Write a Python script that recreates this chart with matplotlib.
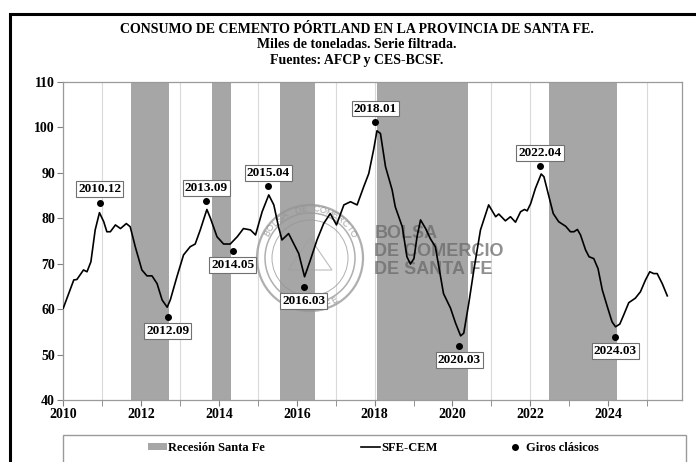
import numpy as np
import matplotlib
matplotlib.use("Agg")
import matplotlib.pyplot as plt
from matplotlib.patches import Rectangle, Patch, Circle
from matplotlib.lines import Line2D

# Serie filtrada SFE-CEM (miles de toneladas)
t = [2010.00, 2010.27, 2010.35, 2010.52, 2010.61, 2010.71, 2010.82, 2010.93, 2011.04, 2011.12,
     2011.21, 2011.34, 2011.47, 2011.62, 2011.72, 2011.85, 2012.02, 2012.15, 2012.28, 2012.41,
     2012.54, 2012.67, 2012.75, 2012.92, 2013.09, 2013.26, 2013.39, 2013.52, 2013.69, 2013.78,
     2013.95, 2014.12, 2014.29, 2014.47, 2014.63, 2014.81, 2014.94, 2015.11, 2015.28, 2015.41,
     2015.53, 2015.62, 2015.79, 2015.92, 2016.05, 2016.20, 2016.35, 2016.52, 2016.69, 2016.86,
     2017.02, 2017.21, 2017.38, 2017.55, 2017.72, 2017.85, 2017.98, 2018.06, 2018.15, 2018.28,
     2018.45, 2018.53, 2018.71, 2018.83, 2018.92, 2019.01, 2019.09, 2019.18, 2019.31, 2019.43,
     2019.56, 2019.65, 2019.77, 2019.95, 2020.08, 2020.21, 2020.29, 2020.42, 2020.55, 2020.72,
     2020.93, 2021.11, 2021.19, 2021.36, 2021.49, 2021.62, 2021.75, 2021.85, 2021.92, 2022.01,
     2022.13, 2022.28, 2022.35, 2022.48, 2022.59, 2022.73, 2022.91, 2023.03, 2023.12, 2023.21,
     2023.29, 2023.42, 2023.51, 2023.63, 2023.74, 2023.85, 2023.98, 2024.10, 2024.19, 2024.30,
     2024.40, 2024.53, 2024.70, 2024.83, 2024.96, 2025.07, 2025.17, 2025.26, 2025.39, 2025.52]
sfe_cem = [60.2, 66.4, 66.5, 68.6, 68.2, 70.4, 77.4, 81.2, 79.2, 77.0,
           77.0, 78.5, 77.7, 78.8, 78.1, 73.7, 68.6, 67.3, 67.3, 65.6,
           62.0, 60.4, 62.0, 67.1, 71.9, 73.7, 74.3, 77.4, 81.9, 80.0,
           75.9, 74.3, 74.3, 75.9, 77.7, 77.4, 76.3, 81.4, 85.1, 82.9,
           78.1, 75.2, 76.6, 74.4, 72.2, 67.1, 70.8, 75.2, 78.8, 81.0,
           78.5, 82.9, 83.6, 82.9, 86.9, 89.8, 95.3, 99.2, 98.6, 91.3,
           86.2, 82.5, 78.1, 71.5, 69.9, 71.1, 75.9, 79.6, 77.7, 75.5,
           73.7, 69.3, 63.4, 60.2, 56.9, 54.1, 54.7, 61.3, 68.6, 77.4,
           82.9, 80.3, 80.9, 79.4, 80.3, 79.1, 81.4, 81.9, 81.6, 83.2,
           86.5, 89.7, 89.1, 84.7, 81.0, 79.2, 78.2, 77.0, 77.0, 77.5,
           76.3, 73.0, 71.5, 71.1, 68.9, 64.2, 60.5, 57.2, 56.1, 56.7,
           58.7, 61.4, 62.4, 63.8, 66.4, 68.2, 67.8, 67.8, 65.6, 62.9]

# Recesiones Santa Fe (inicio, fin)
rec_start = [2011.75, 2013.82, 2015.58, 2018.06, 2022.49]
rec_end = [2012.72, 2014.32, 2016.48, 2020.39, 2024.23]

# Giros clasicos
turn_labels = ["2010.12", "2012.09", "2013.09", "2014.05", "2015.04",
               "2016.03", "2018.01", "2020.03", "2022.04", "2024.03"]
turn_x = [2010.94, 2012.68, 2013.68, 2014.35, 2015.27, 2016.18, 2018.02, 2020.17, 2022.25, 2024.18]
turn_y = [83.4, 58.3, 83.7, 72.7, 87.0, 64.9, 101.2, 51.9, 91.5, 53.9]
turn_peak = [True, False, True, False, True, False, True, False, True, False]

legend_names = ["Recesión Santa Fe", "SFE-CEM", "Giros clásicos"]

serif = "Liberation Serif"
plt.rcParams["font.family"] = serif

fig = plt.figure(figsize=(6.96, 4.62), dpi=100)
ax = fig.add_axes([0.0909, 0.1342, 0.980 - 0.0909, 0.8232 - 0.1342])

# bandas de recesion
for a, b in zip(rec_start, rec_end):
    ax.axvspan(a, b, color="#a6a6a6", lw=0, zorder=1)

# marca de agua
ax.text(3.745, 4.62 - 2.25, "BOLSA\nDE COMERCIO\nDE SANTA FE", transform=fig.dpi_scale_trans,
        fontsize=13, fontweight="bold", family="Liberation Sans", color="#6a6a6a", alpha=0.75,
        ha="left", va="top", linespacing=1.08, zorder=2)
cx, cy = 3.10, 4.62 - 2.58
for r, lw in [(0.53, 1.6), (0.45, 1.1), (0.38, 0.7)]:
    ax.add_patch(Circle((cx, cy), r, transform=fig.dpi_scale_trans, fill=False,
                        ec="#959595", lw=lw, alpha=0.75, zorder=2, clip_on=False))
seal_top = "BOLSA DE COMERCIO"
angs = np.linspace(150, 30, len(seal_top))
for ch, a in zip(seal_top, angs):
    ax.text(cx + 0.49 * np.cos(np.radians(a)), cy + 0.49 * np.sin(np.radians(a)), ch,
            transform=fig.dpi_scale_trans, rotation=a - 90, ha="center", va="center",
            fontsize=6.5, family="Liberation Sans", color="#959595", alpha=0.85, zorder=2)
seal_bot = "SANTA FE"
angs = np.linspace(240, 300, len(seal_bot))
for ch, a in zip(seal_bot, angs):
    ax.text(cx + 0.49 * np.cos(np.radians(a)), cy + 0.49 * np.sin(np.radians(a)), ch,
            transform=fig.dpi_scale_trans, rotation=a + 90, ha="center", va="center",
            fontsize=6.5, family="Liberation Sans", color="#959595", alpha=0.85, zorder=2)
ax.add_patch(plt.Polygon([[cx - 0.22, cy - 0.12], [cx + 0.22, cy - 0.12], [cx, cy + 0.2]],
                         transform=fig.dpi_scale_trans, fill=False, ec="#a0a0a0", lw=0.8,
                         alpha=0.7, zorder=2))

ax.plot(t, sfe_cem, color="black", lw=1.2, zorder=4)
ax.plot(turn_x, turn_y, "o", color="black", ms=4, zorder=5)

for lab, x, y, pk in zip(turn_labels, turn_x, turn_y, turn_peak):
    ax.annotate(lab, (x, y), xytext=(0, 9.5 if pk else -10), textcoords="offset points",
                ha="center", va="center", fontsize=9.5, fontweight="bold", zorder=6,
                bbox=dict(boxstyle="square,pad=0.15", fc="white", ec="#707070", lw=0.8))

ax.set_xlim(2010, 2025.9)
ax.set_ylim(40, 110)
ax.set_xticks(range(2010, 2025, 2))
ax.set_xticks(range(2011, 2026, 2), minor=True)
ax.set_yticks(range(40, 111, 10))
ax.tick_params(axis="both", which="both", direction="out", color="#808080", length=4,
               labelsize=10, pad=2)
for lbl in ax.get_xticklabels() + ax.get_yticklabels():
    lbl.set_fontweight("bold")
ax.grid(axis="x", which="both", color="#dadada", lw=0.8, zorder=0)
ax.set_axisbelow(True)
for s in ax.spines.values():
    s.set_color("#9a9a9a")
    s.set_linewidth(0.9)

fig.text(0.513, 1 - 45 / 462, "CONSUMO DE CEMENTO PÓRTLAND EN LA PROVINCIA DE SANTA FE.\n"
         "Miles de toneladas. Serie filtrada.\nFuentes: AFCP y CES-BCSF.",
         ha="center", va="center", fontsize=10, fontweight="bold", linespacing=1.28)

# marco exterior y caja de leyenda
top = 1 - 14 / 462
fig.patches.append(Rectangle((9.5 / 696, -0.1), 1.2, top + 0.1, transform=fig.transFigure,
                             fill=False, ec="black", lw=2.2))
fig.patches.append(Rectangle((63.3 / 696, -0.1), (686 - 63.3) / 696, 0.1 + 1 - 435 / 462,
                             transform=fig.transFigure, fill=False, ec="#9a9a9a", lw=1))

handles = [Patch(color="#a6a6a6", lw=0),
           Line2D([], [], color="black", lw=1.2),
           Line2D([], [], marker="o", color="black", ls="none", ms=4)]
leg_x = [148, 361, 506]
for h, name, lx in zip(handles, legend_names, leg_x):
    fig.legend([h], [name], loc="center left", bbox_to_anchor=(lx / 696, 1 - 448 / 462),
               frameon=False, prop=dict(family=serif, weight="bold", size=9),
               handlelength=1.5, handleheight=0.5, handletextpad=0.1,
               borderpad=0, borderaxespad=0)

fig.savefig("out.png", dpi=100)
